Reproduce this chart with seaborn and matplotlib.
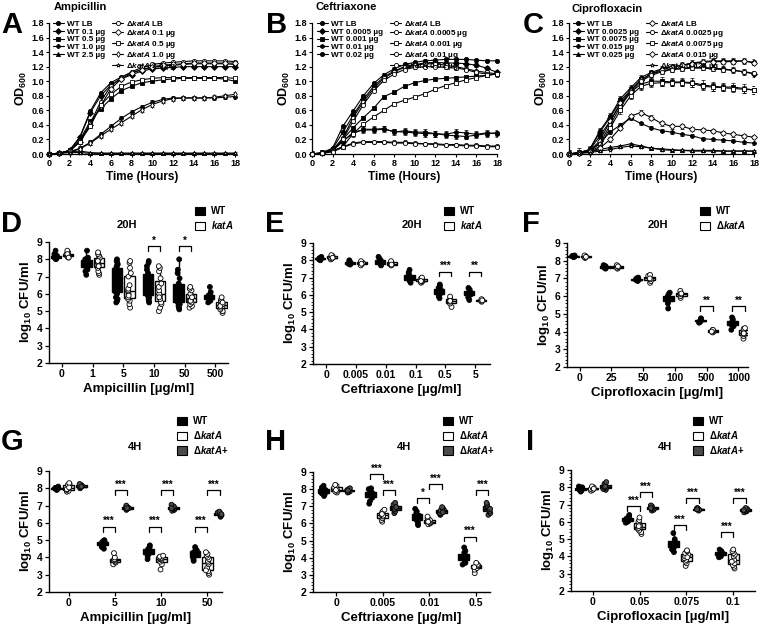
import numpy as np
import pandas as pd
import matplotlib
matplotlib.use("Agg")
import matplotlib.pyplot as plt
from matplotlib.patches import Patch
from matplotlib.ticker import AutoMinorLocator
import seaborn as sns

# ---------------- growth curves (OD600) ----------------
hours = list(range(19))

amp_labels_wt = ["WT LB", "WT 0.1 µg", "WT 0.5 µg", "WT 1.0 µg", "WT 2.5 µg"]
amp_labels_ko = [r"$\mathit{ΔkatA}$ LB", r"$\mathit{ΔkatA}$ 0.1 µg", r"$\mathit{ΔkatA}$ 0.5 µg",
                 r"$\mathit{ΔkatA}$ 1.0 µg", r"$\mathit{ΔkatA}$ 2.5 µg"]
amp_wt_lb = [0.00, 0.01, 0.05, 0.24, 0.59, 0.84, 0.98, 1.06, 1.12, 1.16, 1.19, 1.21, 1.22, 1.23, 1.24, 1.24, 1.24, 1.24, 1.23]
amp_wt_01 = [0.00, 0.01, 0.05, 0.23, 0.57, 0.80, 0.95, 1.03, 1.09, 1.14, 1.17, 1.18, 1.19, 1.20, 1.20, 1.20, 1.20, 1.20, 1.20]
amp_wt_05 = [0.00, 0.01, 0.05, 0.20, 0.45, 0.62, 0.76, 0.87, 0.93, 0.98, 1.00, 1.02, 1.03, 1.04, 1.04, 1.04, 1.04, 1.03, 1.00]
amp_wt_10 = [0.00, 0.01, 0.03, 0.08, 0.16, 0.27, 0.38, 0.49, 0.58, 0.65, 0.71, 0.75, 0.77, 0.77, 0.77, 0.77, 0.77, 0.78, 0.79]
amp_wt_25 = [0.00, 0.01, 0.03, 0.04, 0.02, 0.01, 0.01, 0.01, 0.01, 0.01, 0.01, 0.01, 0.01, 0.01, 0.01, 0.01, 0.01, 0.01, 0.01]
amp_ko_lb = [0.00, 0.01, 0.04, 0.18, 0.42, 0.72, 0.94, 1.05, 1.13, 1.19, 1.23, 1.25, 1.26, 1.27, 1.28, 1.28, 1.28, 1.28, 1.27]
amp_ko_01 = [0.00, 0.01, 0.04, 0.17, 0.40, 0.66, 0.90, 1.03, 1.11, 1.16, 1.20, 1.22, 1.23, 1.24, 1.25, 1.25, 1.25, 1.25, 1.25]
amp_ko_05 = [0.00, 0.01, 0.04, 0.17, 0.38, 0.67, 0.82, 0.93, 0.99, 1.02, 1.04, 1.05, 1.05, 1.05, 1.05, 1.05, 1.05, 1.05, 1.04]
amp_ko_10 = [0.00, 0.01, 0.03, 0.07, 0.15, 0.25, 0.34, 0.43, 0.52, 0.61, 0.68, 0.73, 0.76, 0.77, 0.77, 0.77, 0.78, 0.80, 0.82]
amp_ko_25 = [0.00, 0.01, 0.02, 0.02, 0.01, 0.01, 0.01, 0.01, 0.01, 0.01, 0.01, 0.01, 0.01, 0.01, 0.01, 0.01, 0.01, 0.01, 0.01]
amp_err_wt = [0.01, 0.01, 0.01, 0.03, 0.01]
amp_err_ko = [0.01, 0.01, 0.01, 0.03, 0.01]

cef_labels_wt = ["WT LB", "WT 0.0005 µg", "WT 0.001 µg", "WT 0.01 µg", "WT 0.02 µg"]
cef_labels_ko = [r"$\mathit{ΔkatA}$ LB", r"$\mathit{ΔkatA}$ 0.0005 µg", r"$\mathit{ΔkatA}$ 0.001 µg",
                 r"$\mathit{ΔkatA}$ 0.01 µg", r"$\mathit{ΔkatA}$ 0.02 µg"]
cef_wt_lb = [0.00, 0.02, 0.08, 0.38, 0.59, 0.80, 0.97, 1.09, 1.17, 1.23, 1.26, 1.28, 1.29, 1.30, 1.30, 1.30, 1.29, 1.28, 1.28]
cef_wt_0005 = [0.00, 0.02, 0.07, 0.30, 0.53, 0.75, 0.93, 1.06, 1.14, 1.20, 1.23, 1.25, 1.26, 1.25, 1.25, 1.24, 1.22, 1.18, 1.12]
cef_wt_001 = [0.00, 0.01, 0.06, 0.20, 0.36, 0.50, 0.63, 0.79, 0.85, 0.93, 0.98, 1.01, 1.03, 1.04, 1.05, 1.06, 1.07, 1.08, 1.10]
cef_wt_01 = [0.00, 0.01, 0.05, 0.18, 0.28, 0.34, 0.34, 0.35, 0.30, 0.32, 0.30, 0.30, 0.28, 0.27, 0.30, 0.29, 0.27, 0.29, 0.28]
cef_wt_02 = [0.00, 0.01, 0.05, 0.17, 0.30, 0.33, 0.33, 0.34, 0.31, 0.30, 0.29, 0.28, 0.28, 0.26, 0.25, 0.24, 0.26, 0.28, 0.29]
cef_ko_lb = [0.00, 0.01, 0.05, 0.22, 0.50, 0.72, 0.90, 1.04, 1.13, 1.19, 1.22, 1.24, 1.24, 1.22, 1.20, 1.17, 1.14, 1.12, 1.10]
cef_ko_0005 = [0.00, 0.01, 0.05, 0.20, 0.45, 0.68, 0.87, 1.01, 1.10, 1.16, 1.19, 1.20, 1.20, 1.19, 1.18, 1.16, 1.12, 1.10, 1.09]
cef_ko_001 = [0.00, 0.01, 0.04, 0.10, 0.28, 0.41, 0.51, 0.60, 0.69, 0.74, 0.78, 0.83, 0.89, 0.94, 0.98, 1.02, 1.05, 1.08, 1.10]
cef_ko_01 = [0.00, 0.01, 0.04, 0.10, 0.15, 0.17, 0.17, 0.17, 0.16, 0.16, 0.15, 0.14, 0.14, 0.13, 0.13, 0.12, 0.12, 0.11, 0.11]
cef_ko_02 = [0.00, 0.01, 0.03, 0.09, 0.14, 0.16, 0.16, 0.16, 0.15, 0.15, 0.14, 0.14, 0.13, 0.12, 0.12, 0.11, 0.11, 0.10, 0.10]
cef_err_wt = [0.02, 0.03, 0.02, 0.04, 0.04]
cef_err_ko = [0.02, 0.02, 0.02, 0.01, 0.01]

cip_labels_wt = ["WT LB", "WT 0.0025 µg", "WT 0.0075 µg", "WT 0.015 µg", "WT 0.025 µg"]
cip_labels_ko = [r"$\mathit{ΔkatA}$ LB", r"$\mathit{ΔkatA}$ 0.0025 µg", r"$\mathit{ΔkatA}$ 0.0075 µg",
                 r"$\mathit{ΔkatA}$ 0.015 µg", r"$\mathit{ΔkatA}$ 0.025 µg"]
cip_wt_lb = [0.00, 0.02, 0.06, 0.32, 0.52, 0.76, 0.91, 1.05, 1.12, 1.17, 1.20, 1.22, 1.25, 1.27, 1.28, 1.28, 1.28, 1.28, 1.26]
cip_wt_0025 = [0.00, 0.02, 0.06, 0.30, 0.50, 0.73, 0.88, 1.02, 1.10, 1.14, 1.17, 1.18, 1.19, 1.19, 1.18, 1.17, 1.15, 1.13, 1.10]
cip_wt_0075 = [0.00, 0.02, 0.05, 0.25, 0.45, 0.68, 0.85, 0.96, 1.00, 1.00, 0.99, 0.99, 0.98, 0.95, 0.93, 0.92, 0.92, 0.90, 0.88]
cip_wt_015 = [0.00, 0.02, 0.05, 0.15, 0.30, 0.40, 0.49, 0.42, 0.36, 0.32, 0.30, 0.27, 0.25, 0.21, 0.20, 0.19, 0.18, 0.16, 0.15]
cip_wt_025 = [0.00, 0.01, 0.03, 0.06, 0.09, 0.11, 0.14, 0.11, 0.08, 0.07, 0.06, 0.05, 0.05, 0.05, 0.05, 0.04, 0.04, 0.04, 0.04]
cip_ko_lb = [0.00, 0.01, 0.04, 0.18, 0.45, 0.70, 0.87, 1.02, 1.10, 1.16, 1.19, 1.22, 1.24, 1.26, 1.27, 1.27, 1.27, 1.28, 1.25]
cip_ko_0025 = [0.00, 0.01, 0.04, 0.14, 0.40, 0.65, 0.85, 1.00, 1.08, 1.13, 1.16, 1.17, 1.18, 1.18, 1.17, 1.16, 1.15, 1.13, 1.11]
cip_ko_0075 = [0.00, 0.01, 0.04, 0.10, 0.36, 0.60, 0.80, 0.93, 0.97, 0.98, 0.98, 0.98, 0.97, 0.93, 0.92, 0.91, 0.90, 0.89, 0.88]
cip_ko_015 = [0.00, 0.01, 0.03, 0.08, 0.20, 0.36, 0.52, 0.57, 0.50, 0.42, 0.38, 0.38, 0.34, 0.33, 0.32, 0.29, 0.27, 0.25, 0.23]
cip_ko_025 = [0.00, 0.01, 0.02, 0.04, 0.06, 0.09, 0.11, 0.10, 0.08, 0.06, 0.05, 0.05, 0.04, 0.04, 0.04, 0.04, 0.04, 0.04, 0.04]
cip_err_wt = [0.04, 0.04, 0.06, 0.02, 0.01]
cip_err_ko = [0.03, 0.03, 0.05, 0.03, 0.01]

# ---------------- CFU panels ----------------
amp20_cats = ["0", "1", "5", "10", "50", "500"]
amp20_wt = [[8.0, 8.05, 8.1, 8.1, 8.15, 8.2, 8.2, 8.25, 8.3, 8.5, 8.1, 8.15],
            [7.1, 7.3, 7.5, 7.6, 7.7, 7.8, 7.9, 8.0, 8.1, 8.5, 7.7, 7.4, 7.9, 8.0],
            [5.5, 5.6, 5.8, 6.0, 6.2, 6.4, 6.6, 6.8, 7.0, 7.2, 7.4, 7.6, 7.8, 7.9, 8.0, 6.1, 6.5, 7.1, 7.5, 7.7, 5.7],
            [5.5, 5.6, 5.7, 5.9, 6.0, 6.2, 6.4, 6.6, 6.8, 7.0, 7.2, 7.4, 7.6, 7.8, 7.9, 5.8, 6.5, 7.1],
            [5.1, 5.2, 5.3, 5.5, 5.6, 5.8, 5.9, 6.0, 6.1, 6.2, 6.4, 6.6, 6.9, 7.2, 7.4, 8.0, 5.4, 5.7],
            [5.5, 5.6, 5.7, 5.75, 5.8, 5.85, 5.9, 6.0, 6.1, 6.4, 5.7, 5.8]]
amp20_ko = [[8.1, 8.15, 8.2, 8.25, 8.3, 8.4, 8.5, 8.2, 8.3, 8.1],
            [7.1, 7.2, 7.3, 7.5, 7.6, 7.7, 7.8, 7.9, 8.0, 8.1, 8.2, 8.3, 8.4, 7.6, 7.9],
            [5.2, 5.4, 5.6, 5.7, 5.8, 6.0, 6.1, 6.2, 6.3, 6.5, 7.0, 7.2, 7.5, 7.8, 7.9, 5.9],
            [5.0, 5.2, 5.4, 5.5, 5.7, 5.9, 6.0, 6.2, 6.4, 6.6, 6.9, 7.3, 7.5, 7.6, 5.8],
            [5.2, 5.3, 5.4, 5.5, 5.6, 5.7, 5.8, 5.9, 6.0, 6.2, 6.3, 6.4, 5.6, 5.8],
            [4.9, 5.0, 5.1, 5.2, 5.3, 5.4, 5.5, 5.6, 5.7, 5.8, 5.3, 5.5]]

cef20_cats = ["0", "0.005", "0.01", "0.1", "0.5", "5"]
cef20_wt = [[8.0, 8.05, 8.1, 8.1, 8.15, 8.2, 8.05, 8.12],
            [7.75, 7.8, 7.85, 7.9, 7.95, 8.0, 7.85, 7.8],
            [7.7, 7.75, 7.8, 7.9, 8.0, 8.1, 8.2, 7.85, 7.95],
            [6.7, 6.8, 6.9, 7.0, 7.1, 7.2, 7.3, 7.45, 7.0, 6.85],
            [5.8, 5.9, 6.0, 6.1, 6.2, 6.3, 6.4, 6.5, 6.6, 6.05, 6.25],
            [5.7, 5.85, 6.0, 6.1, 6.2, 6.3, 6.4, 6.15, 6.05]]
cef20_ko = [[8.05, 8.1, 8.15, 8.2, 8.25, 8.3, 8.15],
            [7.7, 7.8, 7.85, 7.9, 7.95, 7.8],
            [7.7, 7.75, 7.8, 7.85, 7.9, 7.95, 7.75],
            [6.7, 6.75, 6.8, 6.85, 6.9, 6.95, 7.0, 6.8],
            [5.3, 5.5, 5.6, 5.7, 5.8, 5.9, 5.65],
            [5.6, 5.65, 5.7, 5.72, 5.75, 5.68]]

cip20_cats = ["0", "25", "50", "100", "500", "1000"]
cip20_wt = [[8.2, 8.22, 8.25, 8.28, 8.3, 8.24, 8.26],
            [7.55, 7.6, 7.65, 7.7, 7.75, 7.62, 7.68],
            [6.85, 6.9, 6.95, 7.0, 7.05, 6.92],
            [5.3, 5.6, 5.7, 5.8, 5.9, 6.0, 6.1, 6.2, 5.85],
            [4.5, 4.55, 4.6, 4.65, 4.7, 4.75, 4.62],
            [4.1, 4.3, 4.4, 4.5, 4.6, 4.7, 4.8, 4.55]]
cip20_ko = [[8.15, 8.2, 8.25, 8.3, 8.22],
            [7.55, 7.6, 7.65, 7.7, 7.75, 7.68],
            [6.75, 6.85, 6.95, 7.05, 7.15, 7.2, 7.0],
            [5.9, 6.0, 6.1, 6.2, 6.3, 6.15],
            [3.95, 4.0, 4.02, 4.05, 4.08, 4.1, 4.0],
            [3.6, 3.75, 3.85, 3.95, 4.05, 4.15, 4.2, 3.9]]

amp4_cats = ["0", "5", "10", "50"]
amp4_wt = [[7.9, 7.95, 8.0, 8.0, 8.05, 8.1, 7.98, 8.02],
           [4.5, 4.6, 4.7, 4.8, 4.85, 4.9, 4.95, 5.0, 4.75, 4.88],
           [3.9, 4.1, 4.2, 4.3, 4.4, 4.5, 4.6, 4.7, 4.45, 4.35],
           [3.8, 3.9, 4.0, 4.1, 4.2, 4.3, 4.4, 4.5, 4.6, 4.25, 4.15]]
amp4_ko = [[7.8, 7.85, 7.9, 8.0, 8.1, 8.2, 8.25, 8.3, 7.95, 8.05],
           [3.6, 3.7, 3.75, 3.8, 3.85, 3.9, 4.0, 4.25],
           [3.3, 3.6, 3.75, 3.85, 3.9, 3.95, 4.0, 4.05, 4.1],
           [3.0, 3.1, 3.2, 3.4, 3.6, 3.7, 3.8, 3.9, 4.0, 4.1, 4.2, 4.3, 3.25]]
amp4_comp = [[8.0, 8.05, 8.1, 8.15, 8.2, 8.25, 8.1],
             [6.75, 6.8, 6.85, 6.9, 6.95, 7.0, 6.85],
             [6.7, 6.75, 6.8, 6.85, 6.9, 6.95, 7.05, 6.85],
             [6.35, 6.4, 6.45, 6.5, 6.55, 6.6, 6.65, 6.5]]

cef4_cats = ["0", "0.005", "0.01", "0.5"]
cef4_wt = [[7.6, 7.7, 7.8, 7.85, 7.9, 7.95, 8.0, 8.05, 8.1, 8.2, 7.75, 7.92],
           [7.15, 7.3, 7.5, 7.6, 7.7, 7.75, 7.8, 7.9, 8.0, 8.05, 7.65],
           [5.9, 6.0, 6.1, 6.2, 6.3, 6.4, 6.5, 6.6, 6.7, 6.85, 6.35, 6.45],
           [3.6, 3.7, 3.8, 3.9, 4.0, 4.1, 4.2, 4.3, 4.4, 4.6, 4.05, 3.95]]
cef4_ko = [[7.8, 7.85, 7.9, 8.0, 8.1, 8.2, 8.25, 7.95],
           [6.1, 6.2, 6.3, 6.4, 6.5, 6.6, 6.7, 6.8, 6.45, 6.55],
           [5.95, 6.0, 6.05, 6.1, 6.15, 6.2, 6.3, 6.4, 6.1],
           [3.1, 3.3, 3.4, 3.5, 3.55, 3.6, 3.7, 3.45]]
cef4_comp = [[7.8, 7.85, 7.9, 7.95, 8.0, 8.05, 7.92],
             [6.6, 6.7, 6.8, 6.9, 7.0, 7.1, 7.2, 6.85, 6.95],
             [6.5, 6.55, 6.6, 6.7, 6.75, 6.8, 6.9, 6.95, 6.65],
             [6.5, 6.6, 6.7, 6.8, 6.9, 7.0, 7.1, 7.2, 6.85]]

cip4_cats = ["0", "0.05", "0.075", "0.1"]
cip4_wt = [[7.75, 7.8, 7.85, 7.9, 7.95, 8.0, 8.05, 7.88],
           [5.95, 6.0, 6.05, 6.1, 6.15, 6.2, 6.3, 6.4, 6.12],
           [4.25, 4.4, 4.5, 4.6, 4.7, 4.8, 4.9, 5.0, 5.35, 4.65],
           [3.95, 4.0, 4.1, 4.15, 4.2, 4.25, 4.3, 4.4, 4.18]]
cip4_ko = [[7.8, 7.85, 7.9, 7.95, 8.0, 8.05, 7.92],
           [5.3, 5.4, 5.5, 5.6, 5.7, 5.8, 5.9, 6.0, 6.1, 6.25, 5.65, 5.75],
           [3.45, 3.6, 3.7, 3.8, 3.9, 4.0, 4.1, 4.2, 4.3, 4.35, 3.95],
           [3.3, 3.4, 3.5, 3.6, 3.8, 4.0, 4.1, 4.2, 4.3, 4.4, 3.7]]
cip4_comp = [[7.85, 7.9, 7.95, 8.0, 8.1, 8.2, 8.3, 8.05],
             [6.65, 6.7, 6.75, 6.8, 6.85, 6.9, 6.95, 6.8],
             [6.65, 6.7, 6.72, 6.75, 6.78, 6.8, 6.72],
             [6.55, 6.6, 6.65, 6.7, 6.75, 6.8, 6.68]]

# significance brackets: (category index, hue a, hue b, height, label)
amp20_sig = [(3, 0, 1, 8.75, "*"), (4, 0, 1, 8.75, "*")]
cef20_sig = [(4, 0, 1, 7.35, "***"), (5, 0, 1, 7.35, "**")]
cip20_sig = [(4, 0, 1, 5.45, "**"), (5, 0, 1, 5.45, "**")]
amp4_sig = [(1, 0, 1, 5.78, "***"), (1, 1, 2, 7.89, "***"), (2, 0, 1, 5.78, "***"),
            (2, 1, 2, 7.89, "***"), (3, 0, 1, 5.78, "***"), (3, 1, 2, 7.89, "***")]
cef4_sig = [(1, 0, 1, 8.9, "***"), (1, 1, 2, 7.94, "***"), (2, 0, 1, 7.5, "*"),
            (2, 1, 2, 8.3, "***"), (3, 0, 1, 5.23, "***"), (3, 1, 2, 7.94, "***")]
cip4_sig = [(1, 0, 1, 6.91, "***"), (1, 1, 2, 7.74, "***"), (2, 0, 1, 5.81, "***"),
            (2, 1, 2, 7.39, "***"), (3, 0, 1, 5.42, "***"), (3, 1, 2, 7.39, "***")]

# ---------------- style ----------------
sns.set_theme(style="ticks")
plt.rcParams.update({
    "font.family": ["Liberation Sans", "DejaVu Sans"],
    "font.weight": "bold",
    "axes.labelweight": "bold",
    "axes.titleweight": "bold",
    "mathtext.fontset": "custom",
    "mathtext.rm": "Liberation Sans:bold",
    "mathtext.bf": "Liberation Sans:bold",
    "mathtext.it": "Liberation Sans:bold:italic",
    "mathtext.default": "bf",
    "axes.edgecolor": "black",
    "xtick.color": "black",
    "ytick.color": "black",
    "text.color": "black",
    "axes.labelcolor": "black",
})

W, H = 760, 628
fig = plt.figure(figsize=(7.6, 6.28), dpi=100)
fig.patch.set_facecolor("white")


def rect(l, t, r, b):
    return [l / W, 1 - b / H, (r - l) / W, (b - t) / H]


def fx(px):
    return px / W


def fy(py):
    return 1 - py / H


def growth_panel(ax, title, letter, lpos, tpos, legpos, wt, ko, lab_wt, lab_ko, err_wt, err_ko, mk_wt, mk_ko, colsp):
    for vals, lab, err, m in zip(wt, lab_wt, err_wt, mk_wt):
        sns.lineplot(x=hours, y=vals, ax=ax, color="black", lw=0.8, marker=m, markersize=3.0,
                     markerfacecolor="black", markeredgecolor="black", markeredgewidth=0.6,
                     label=lab, clip_on=False, zorder=3)
        ax.errorbar(hours, vals, yerr=err, fmt="none", ecolor="black", elinewidth=0.5,
                    capsize=1.3, capthick=0.5, zorder=2)
    for vals, lab, err, m in zip(ko, lab_ko, err_ko, mk_ko):
        sns.lineplot(x=hours, y=vals, ax=ax, color="black", lw=0.8, marker=m, markersize=3.0,
                     markerfacecolor="white", markeredgecolor="black", markeredgewidth=0.6,
                     label=lab, clip_on=False, zorder=3)
        ax.errorbar(hours, vals, yerr=err, fmt="none", ecolor="black", elinewidth=0.5,
                    capsize=1.3, capthick=0.5, zorder=2)
    ax.set_xlim(0, 18)
    ax.set_ylim(0, 1.8)
    ax.set_xticks(range(0, 19, 2))
    ax.set_yticks(np.arange(0, 1.81, 0.2))
    ax.set_yticklabels([f"{v:.1f}" for v in np.arange(0, 1.81, 0.2)])
    ax.tick_params(labelsize=6.5, width=0.8, length=2.5, pad=1)
    for s in ["top", "right"]:
        ax.spines[s].set_visible(False)
    for s in ["left", "bottom"]:
        ax.spines[s].set_linewidth(0.9)
    ax.set_xlabel("Time (Hours)", fontsize=8.5, labelpad=2)
    ax.set_ylabel(r"OD$_{600}$", fontsize=9, labelpad=2)
    h, l = ax.get_legend_handles_labels()
    ax.legend(h, l, loc="upper left", bbox_to_anchor=(fx(legpos[0]), fy(legpos[1])),
              bbox_transform=fig.transFigure, ncol=2, fontsize=5.9, frameon=False,
              labelspacing=0.0, handlelength=1.3, handletextpad=0.4, columnspacing=colsp,
              borderpad=0, borderaxespad=0)
    fig.text(fx(tpos[0]), fy(tpos[1]), title, fontsize=8, fontweight="bold", ha="left", va="center")
    fig.text(fx(lpos[0]), fy(lpos[1]), letter, fontsize=21, fontweight="bold", ha="left", va="baseline")


pal3 = {"WT": "black", "ko": "white", "comp": "#4a4a4a"}


def cfu_panel(ax, cats, groups, names, labels, sig, xlim, xlabel, title, tpos, letter, lpos, legpos, legsp, minor):
    rows = []
    for name, grp in zip(names, groups):
        for c, vals in zip(cats, grp):
            for v in vals:
                rows.append((c, name, v))
    df = pd.DataFrame(rows, columns=["conc", "strain", "cfu"])
    n = len(names)
    pal = {k: pal3[k] for k in names}
    sns.boxplot(data=df, x="conc", y="cfu", hue="strain", order=cats, hue_order=names,
                palette=pal, saturation=1, whis=(0, 100), showfliers=False, showcaps=False,
                width=0.8, gap=0.15 if n == 2 else 0.12, linecolor="black", linewidth=1.0,
                dodge=True, legend=False, ax=ax)
    np.random.seed(3)
    sns.stripplot(data=df, x="conc", y="cfu", hue="strain", order=cats, hue_order=names,
                  palette=pal, dodge=True, jitter=0.1 if n == 2 else 0.14, size=3.5,
                  linewidth=0.6, edgecolor="black", legend=False, ax=ax, zorder=3)
    for coll in ax.collections:
        coll.set_clip_on(False)
    offs = [(i - (n - 1) / 2) * 0.8 / n for i in range(n)]
    for ci, a, b, y, txt in sig:
        x1, x2 = ci + offs[a], ci + offs[b]
        ax.plot([x1, x1, x2, x2], [y - 0.28, y, y, y - 0.28], color="black", lw=0.9,
                clip_on=False, zorder=4)
        ax.text((x1 + x2) / 2, y + 0.02, txt, ha="center", va="bottom", fontsize=7,
                fontweight="bold")
    ax.set_xlim(*xlim)
    ax.set_ylim(2, 9)
    ax.set_yticks(range(2, 10))
    if minor:
        ax.yaxis.set_minor_locator(AutoMinorLocator(5))
        ax.tick_params(axis="y", which="minor", length=1.5, width=0.6)
    ax.tick_params(axis="both", which="major", labelsize=7.5, width=0.9, length=3, pad=1.5)
    for s in ["top", "right"]:
        ax.spines[s].set_visible(False)
    for s in ["left", "bottom"]:
        ax.spines[s].set_linewidth(1.0)
    ax.set_xlabel(xlabel, fontsize=9.5, labelpad=3)
    ax.set_ylabel(r"log$_{10}$ CFU/ml", fontsize=9.5, labelpad=2)
    handles = [Patch(facecolor=pal3[k], edgecolor="black", linewidth=0.8) for k in names]
    ax.legend(handles, labels, loc="upper left", bbox_to_anchor=(fx(legpos[0]), fy(legpos[1])),
              bbox_transform=fig.transFigure, fontsize=7, frameon=False, handlelength=1.0,
              handleheight=0.9, handletextpad=0.6, labelspacing=legsp, borderpad=0, borderaxespad=0)
    fig.text(fx(tpos[0]), fy(tpos[1]), title, fontsize=8, fontweight="bold", ha="center", va="center")
    fig.text(fx(lpos[0]), fy(lpos[1]), letter, fontsize=21, fontweight="bold", ha="left", va="baseline")


axA = fig.add_axes(rect(49, 23, 235, 154))
axB = fig.add_axes(rect(312, 23, 497, 154))
axC = fig.add_axes(rect(569, 23, 754, 154))
axD = fig.add_axes(rect(49, 242, 228, 363))
axE = fig.add_axes(rect(313, 243, 490, 364))
axF = fig.add_axes(rect(567, 243, 748, 367))
axG = fig.add_axes(rect(49, 471, 222, 592))
axH = fig.add_axes(rect(313, 472, 490, 592))
axI = fig.add_axes(rect(571, 470, 755, 591))

growth_panel(axA, "Ampicillin", "A", (1, 33), (54, 7), (53, 19),
             [amp_wt_lb, amp_wt_01, amp_wt_05, amp_wt_10, amp_wt_25],
             [amp_ko_lb, amp_ko_01, amp_ko_05, amp_ko_10, amp_ko_25],
             amp_labels_wt, amp_labels_ko, amp_err_wt, amp_err_ko,
             ["o", "D", "s", "P", "^"], ["o", "D", "s", "d", "*"], 0.9)
growth_panel(axB, "Ceftriaxone", "B", (266, 33), (315, 7), (317, 19),
             [cef_wt_lb, cef_wt_0005, cef_wt_001, cef_wt_01, cef_wt_02],
             [cef_ko_lb, cef_ko_0005, cef_ko_001, cef_ko_01, cef_ko_02],
             cef_labels_wt, cef_labels_ko, cef_err_wt, cef_err_ko,
             ["o", "D", "s", "h", "o"], ["o", "o", "s", "o", "o"], 0.9)
growth_panel(axC, "Ciprofloxacin", "C", (523, 33), (572, 9), (573, 19),
             [cip_wt_lb, cip_wt_0025, cip_wt_0075, cip_wt_015, cip_wt_025],
             [cip_ko_lb, cip_ko_0025, cip_ko_0075, cip_ko_015, cip_ko_025],
             cip_labels_wt, cip_labels_ko, cip_err_wt, cip_err_ko,
             ["o", "D", "s", "P", "^"], ["D", "o", "s", "D", "*"], 0.9)

lab2 = ["WT", r"$\mathit{katA}$"]
lab2d = ["WT", r"$\mathit{ΔkatA}$"]
lab3 = ["WT", r"$\mathit{ΔkatA}$", r"$\mathit{ΔkatA}$+"]

cfu_panel(axD, amp20_cats, [amp20_wt, amp20_ko], ["WT", "ko"], lab2, amp20_sig, (-0.42, 5.41),
          "Ampicillin [µg/ml]", "20H", (127, 225), "D", (1, 232), (195, 206), 0.3, False)
cfu_panel(axE, cef20_cats, [cef20_wt, cef20_ko], ["WT", "ko"], lab2, cef20_sig, (-0.44, 5.5),
          "Ceftriaxone [µg/ml]", "20H", (412, 225), "E", (265, 232), (444, 206), 0.3, True)
cfu_panel(axF, cip20_cats, [cip20_wt, cip20_ko], ["WT", "ko"], lab2d, cip20_sig, (-0.4, 5.3),
          "Ciprofloxacin [µg/ml]", "20H", (658, 225), "F", (522, 232), (700, 206), 0.3, True)
cfu_panel(axG, amp4_cats, [amp4_wt, amp4_ko, amp4_comp], ["WT", "ko", "comp"], lab3, amp4_sig,
          (-0.43, 3.32), "Ampicillin [µg/ml]", "4H", (135, 447), "G", (1, 450), (177, 416), 0.3, False)
cfu_panel(axH, cef4_cats, [cef4_wt, cef4_ko, cef4_comp], ["WT", "ko", "comp"], lab3, cef4_sig,
          (-0.5, 3.3), "Ceftriaxone [µg/ml]", "4H", (404, 447), "H", (265, 450), (443, 416), 0.3, True)
cfu_panel(axI, cip4_cats, [cip4_wt, cip4_ko, cip4_comp], ["WT", "ko", "comp"], lab3, cip4_sig,
          (-0.47, 3.47), "Ciprofloxacin [µg/ml]", "4H", (665, 447), "I", (526, 450), (693, 416), 0.3, True)

fig.savefig("out.png", dpi=100, facecolor="white")
